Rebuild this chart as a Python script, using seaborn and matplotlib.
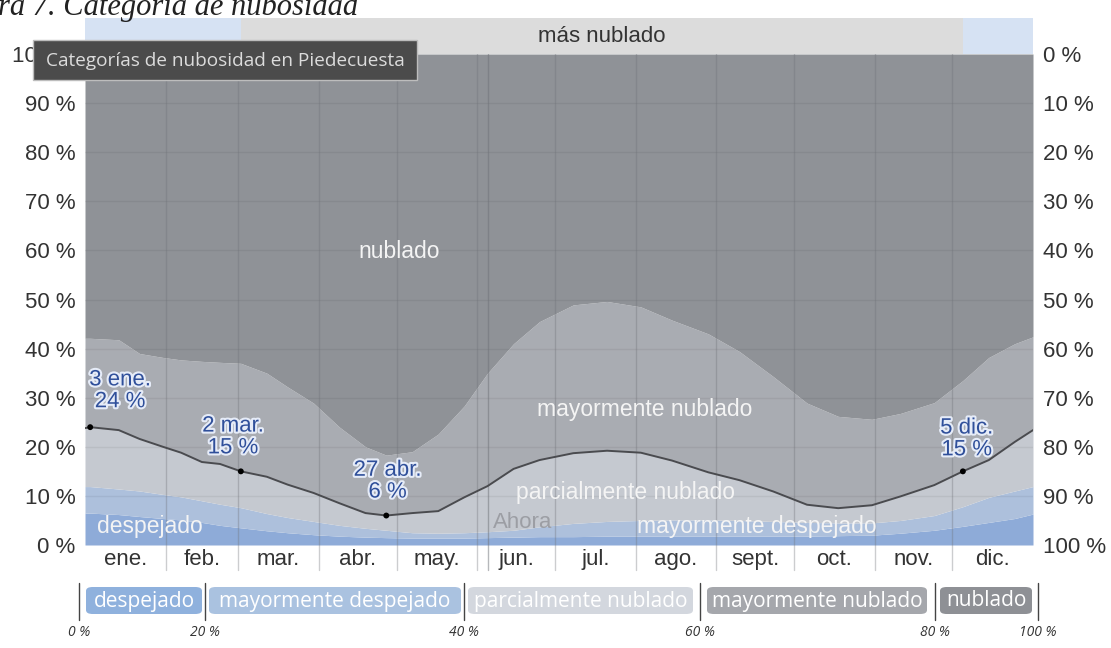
import numpy as np
import pandas as pd
import matplotlib.pyplot as plt
import seaborn as sns
from matplotlib.patches import Rectangle, FancyBboxPatch
import matplotlib.patheffects as pe

# day of year (0-365) where the category boundaries were read
days = [0, 2, 13, 21, 30, 37, 45, 52, 60, 70, 78, 88, 98, 108, 116, 126, 136, 146, 155,
        165, 175, 188, 201, 214, 226, 240, 252, 265, 278, 290, 303, 314, 327, 338, 348, 358, 365]
# cumulative % of time (top edge of each band)
despejado_top = [6.5, 6.5, 6.2, 5.8, 5.4, 5.1, 4.6, 4.0, 3.5, 2.9, 2.5, 2.1, 1.8, 1.6, 1.5, 1.4, 1.4, 1.4, 1.5,
                 1.6, 1.7, 1.7, 1.8, 1.8, 1.8, 1.8, 1.8, 1.8, 1.8, 1.9, 2.0, 2.4, 3.0, 3.8, 4.6, 5.4, 6.3]
may_despejado_top = [11.9, 11.9, 11.4, 11.0, 10.3, 9.8, 9.0, 8.3, 7.6, 6.4, 5.6, 4.8, 4.0, 3.4, 3.0, 2.5, 2.4, 2.5, 2.7,
                     3.0, 3.7, 4.4, 4.8, 5.0, 5.1, 5.1, 5.0, 4.8, 4.6, 4.5, 4.5, 5.0, 6.0, 7.8, 9.7, 11.0, 11.9]
parcial_top = [23.8, 24.0, 23.4, 21.6, 20.0, 18.8, 16.9, 16.5, 15.0, 13.9, 12.3, 10.6, 8.5, 6.5, 6.0, 6.5, 6.9, 9.7, 12.0,
               15.5, 17.3, 18.7, 19.2, 18.8, 17.2, 14.8, 13.2, 10.9, 8.2, 7.5, 8.1, 9.9, 12.2, 15.0, 17.3, 21.0, 23.4]
may_nublado_top = [42.1, 42.1, 41.8, 39.0, 38.2, 37.7, 37.4, 37.2, 37.0, 35.0, 32.2, 28.9, 24.0, 20.0, 18.3, 19.0, 22.6, 28.3, 35.0,
                   41.0, 45.5, 48.9, 49.6, 48.5, 45.8, 43.0, 39.4, 34.3, 28.9, 26.2, 25.6, 26.8, 29.0, 33.5, 38.2, 41.0, 42.4]

months = ['ene.', 'feb.', 'mar.', 'abr.', 'may.', 'jun.', 'jul.', 'ago.', 'sept.', 'oct.', 'nov.', 'dic.']
month_starts = [0, 31, 59, 90, 120, 151, 181, 212, 243, 273, 304, 334, 365]

hl_days = [2, 60, 116, 338]
hl_vals = [24, 15, 6, 15]
hl_labels = ['3 ene.\n24 %', '2 mar.\n15 %', '27 abr.\n6 %', '5 dic.\n15 %']
hl_text_pos = [(13.5, 31.4), (57.0, 22.0), (116.5, 13.0), (339.5, 21.6)]

clear_season = (60, 338)   # más nublado period between these days
ahora_day = 155

categories = ['despejado', 'mayormente despejado', 'parcialmente nublado', 'mayormente nublado', 'nublado']
band_colors = ['#8eabd8', '#adc0dc', '#c5c9d0', '#a9acb2', '#8f9297']
legend_colors = ['#8fb1dd', '#aac2e0', '#d3d7de', '#a5a7ac', '#8e9095']
legend_pcts = ['0 %', '20 %', '40 %', '60 %', '80 %', '100 %']

sns.set_style("white")
plt.rcParams['font.family'] = ['Liberation Sans', 'DejaVu Sans']

W, H = 1111, 648
fig = plt.figure(figsize=(W / 100, H / 100), dpi=100)

def fx(px): return px / W
def fy(py): return 1 - py / H

ax = fig.add_axes([fx(85), fy(545), fx(1033) - fx(85), fy(54) - fy(545)])
df = pd.DataFrame({'day': days, 'line': parcial_top})

tops = [np.zeros(len(days)), despejado_top, may_despejado_top, parcial_top, may_nublado_top, np.full(len(days), 100.0)]
for i in range(5):
    ax.fill_between(days, tops[i], tops[i + 1], color=band_colors[i], lw=0, zorder=1)

# grid
for v in range(10, 100, 10):
    ax.axhline(v, color='black', alpha=0.06, lw=1, zorder=2)
for d in month_starts[1:-1]:
    ax.axvline(d, ymin=-0.05, ymax=1, color='#6f7278', alpha=0.35, lw=1, zorder=2, clip_on=False)
ax.axvline(ahora_day, ymin=-0.05, ymax=1, color='#6f7278', alpha=0.5, lw=1, zorder=2, clip_on=False)

sns.lineplot(data=df, x='day', y='line', color='#4a4b4f', lw=1.4, ax=ax, zorder=4)
sns.scatterplot(x=hl_days, y=hl_vals, color='black', s=18, ax=ax, zorder=5, edgecolor='none')

halo = [pe.withStroke(linewidth=3, foreground='#e6ecf8')]
for (tx, ty), lbl in zip(hl_text_pos, hl_labels):
    ax.text(tx, ty, lbl, ha='center', va='center', fontsize=16, color='#2f4f9a',
            linespacing=1.05, path_effects=halo, zorder=6)

area_txt = dict(color='#f4f4f4', fontsize=16.5, ha='center', va='center', zorder=3)
ax.text(121, 59.7, 'nublado', **area_txt)
ax.text(215.5, 27.5, 'mayormente nublado', **area_txt)
ax.text(208, 10.6, 'parcialmente nublado', **area_txt)
ax.text(25, 3.7, 'despejado', **area_txt)
ax.text(258.5, 3.7, 'mayormente despejado', **area_txt)
ax.text(157, 4.5, 'Ahora', color='#9c9ea4', fontsize=16, ha='left', va='center', zorder=3)

ax.set_xlim(0, 365)
ax.set_ylim(0, 100)
mids = [(a + b) / 2 for a, b in zip(month_starts[:-1], month_starts[1:])]
ax.set_xticks(mids)
ax.set_xticklabels(months, fontsize=16, color='#333333')
ax.set_yticks(range(0, 101, 10))
ax.set_yticklabels([f'{v} %' for v in range(0, 101, 10)], fontsize=16, color='#333333')
ax.tick_params(length=0, pad=7)
ax.tick_params(axis='x', pad=3)
ax.set_xlabel('')
ax.set_ylabel('')
for s in ax.spines.values():
    s.set_visible(False)

ax2 = ax.twinx()
ax2.set_ylim(0, 100)
ax2.set_yticks(range(0, 101, 10))
ax2.set_yticklabels([f'{100 - v} %' for v in range(0, 101, 10)], fontsize=16, color='#333333')
ax2.tick_params(length=0, pad=7)
for s in ax2.spines.values():
    s.set_visible(False)

# top season band
band = fig.add_axes([fx(85), fy(54), fx(1033) - fx(85), fy(18) - fy(54)])
band.set_xlim(0, 365)
band.set_ylim(0, 1)
band.axvspan(0, clear_season[0], color='#d6e2f3', lw=0)
band.axvspan(clear_season[0], clear_season[1], color='#dcdcdc', lw=0)
band.axvspan(clear_season[1], 365, color='#d6e2f3', lw=0)
band.text(sum(clear_season) / 2, 0.5, 'más nublado', ha='center', va='center', fontsize=16, color='#333333')
band.axis('off')

# tooltip box
fig.add_artist(Rectangle((fx(33), fy(80)), fx(417) - fx(33), fy(40) - fy(80), transform=fig.transFigure,
                         fc='#4b4b4b', ec='#bdbdbd', lw=1, zorder=10))
fig.text(fx(225), fy(61), 'Categorías de nubosidad en Piedecuesta', ha='center', va='center',
         fontsize=13.7, color='#dcdcdc', family='Open Sans', zorder=11)

# partially cropped caption at the very top
fig.text(fx(-2), fy(15), 'ra 7. Categoría de nubosidad', ha='left', va='baseline', fontsize=22,
         family='Liberation Serif', style='italic', color='#222222')

# legend strip
box_x = [(86, 202), (209, 461), (468, 693), (707, 927), (940, 1032)]
for (x0, x1), name, c in zip(box_x, categories, legend_colors):
    fig.add_artist(FancyBboxPatch((fx(x0), fy(614)), fx(x1) - fx(x0), fy(587) - fy(614),
                                  boxstyle='round,pad=0,rounding_size=0.006', transform=fig.transFigure,
                                  fc=c, ec='none'))
    fig.text(fx((x0 + x1) / 2), fy(601), name, ha='center', va='center', fontsize=15,
             color='white', family='Open Sans')
sep_x = [79, 205, 464, 700, 935, 1038]
for sx, lbl in zip(sep_x, legend_pcts):
    fig.add_artist(plt.Line2D([fx(sx), fx(sx)], [fy(583), fy(620)], transform=fig.transFigure,
                              color='#444444', lw=1))
    fig.text(fx(sx), fy(633), lbl, ha='center', va='center', fontsize=10, style='italic',
             color='#333333', family='Open Sans')

fig.savefig('out.png', dpi=100)
